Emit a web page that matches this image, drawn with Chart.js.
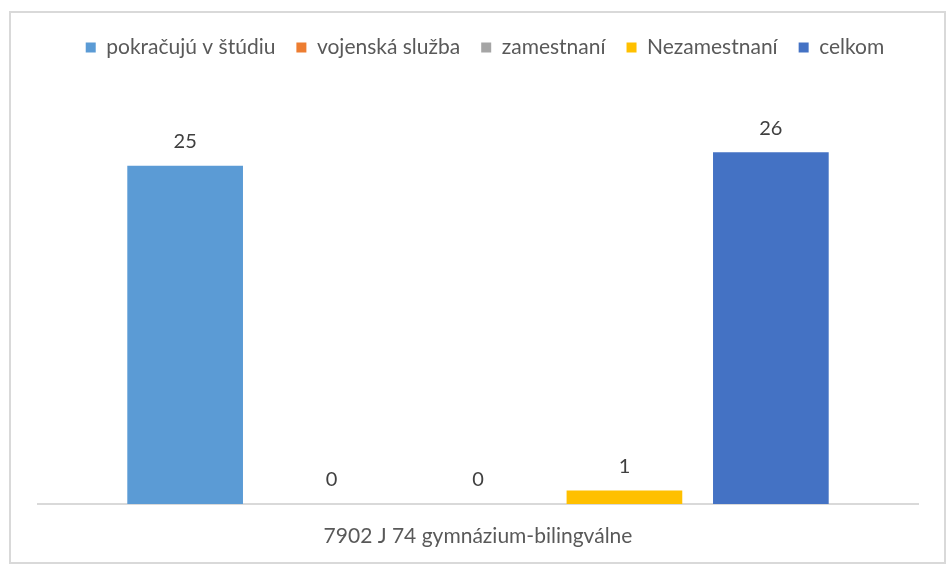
<!DOCTYPE html>
<html>
<head>
<meta charset="utf-8">
<script src="https://cdn.jsdelivr.net/npm/chart.js@4"></script>
<style>
  html, body { margin: 0; padding: 0; background: #ffffff; }
  #wrap { position: relative; width: 947px; height: 565px; }
  #frame { position: absolute; left: 9px; top: 11px; width: 937px; height: 553px; box-sizing: border-box; border: 2px solid #d9d9d9; pointer-events: none; }
  canvas { position: absolute; left: 0; top: 0; }
</style>
</head>
<body>
<div id="wrap">
  <canvas id="c" width="947" height="565"></canvas>
  <div id="frame"></div>
</div>
<script>
const categories = ['7902 J 74 gymnázium-bilingválne'];
const seriesNames = ['pokračujú v štúdiu', 'vojenská služba', 'zamestnaní', 'Nezamestnaní', 'celkom'];
const pokracujuVStudiu = [25];
const vojenskaSluzba = [0];
const zamestnani = [0];
const nezamestnani = [1];
const celkom = [26];
const seriesColors = ['#5B9BD5', '#ED7D31', '#A5A5A5', '#FFC000', '#4472C4'];

const seriesValues = [pokracujuVStudiu, vojenskaSluzba, zamestnani, nezamestnani, celkom];
const FONT = 'Lato, "Open Sans", sans-serif';

const dataLabelPlugin = {
  id: 'dataLabels',
  afterDatasetsDraw(chart) {
    const ctx = chart.ctx;
    ctx.save();
    ctx.font = '20px ' + FONT;
    ctx.fillStyle = '#404040';
    ctx.textAlign = 'center';
    ctx.textBaseline = 'middle';
    chart.data.datasets.forEach((ds, i) => {
      const meta = chart.getDatasetMeta(i);
      meta.data.forEach((el, j) => {
        ctx.fillText(String(ds.data[j]), el.x, el.y - 24);
      });
    });
    ctx.restore();
  }
};

const legendSpacer = {
  id: 'legendSpacer',
  afterInit(chart) {
    const lg = chart.legend;
    if (!lg) return;
    const orig = lg.fit;
    lg.fit = function () {
      orig.call(this);
      this.height = 82;
    };
  },
  afterLayout(chart) {
    const lg = chart.legend;
    if (!lg) return;
    lg.left += 7;
    lg.right += 7;
  }
};

new Chart(document.getElementById('c'), {
  type: 'bar',
  data: {
    labels: categories,
    datasets: seriesNames.map((name, i) => ({
      label: name,
      data: seriesValues[i],
      backgroundColor: seriesColors[i],
      borderWidth: 0,
      categoryPercentage: 0.832,
      barPercentage: 0.79
    }))
  },
  options: {
    responsive: false,
    animation: false,
    layout: { padding: { top: 16, left: 38, right: 29, bottom: 17 } },
    plugins: {
      legend: {
        position: 'top',
        labels: {
          boxWidth: 10,
          boxHeight: 10,
          padding: 21,
          color: '#595959',
          font: { family: FONT, size: 21 }
        }
      },
      tooltip: { enabled: false }
    },
    scales: {
      x: {
        grid: { display: false, drawTicks: false },
        border: { display: true, color: '#d9d9d9', width: 2 },
        ticks: { color: '#595959', font: { family: FONT, size: 21 }, padding: 20, maxRotation: 0 },
        afterFit(scale) { scale.height = 44; }
      },
      y: {
        display: false,
        min: 0,
        max: 30
      }
    }
  },
  plugins: [dataLabelPlugin, legendSpacer]
});
</script>
</body>
</html>
